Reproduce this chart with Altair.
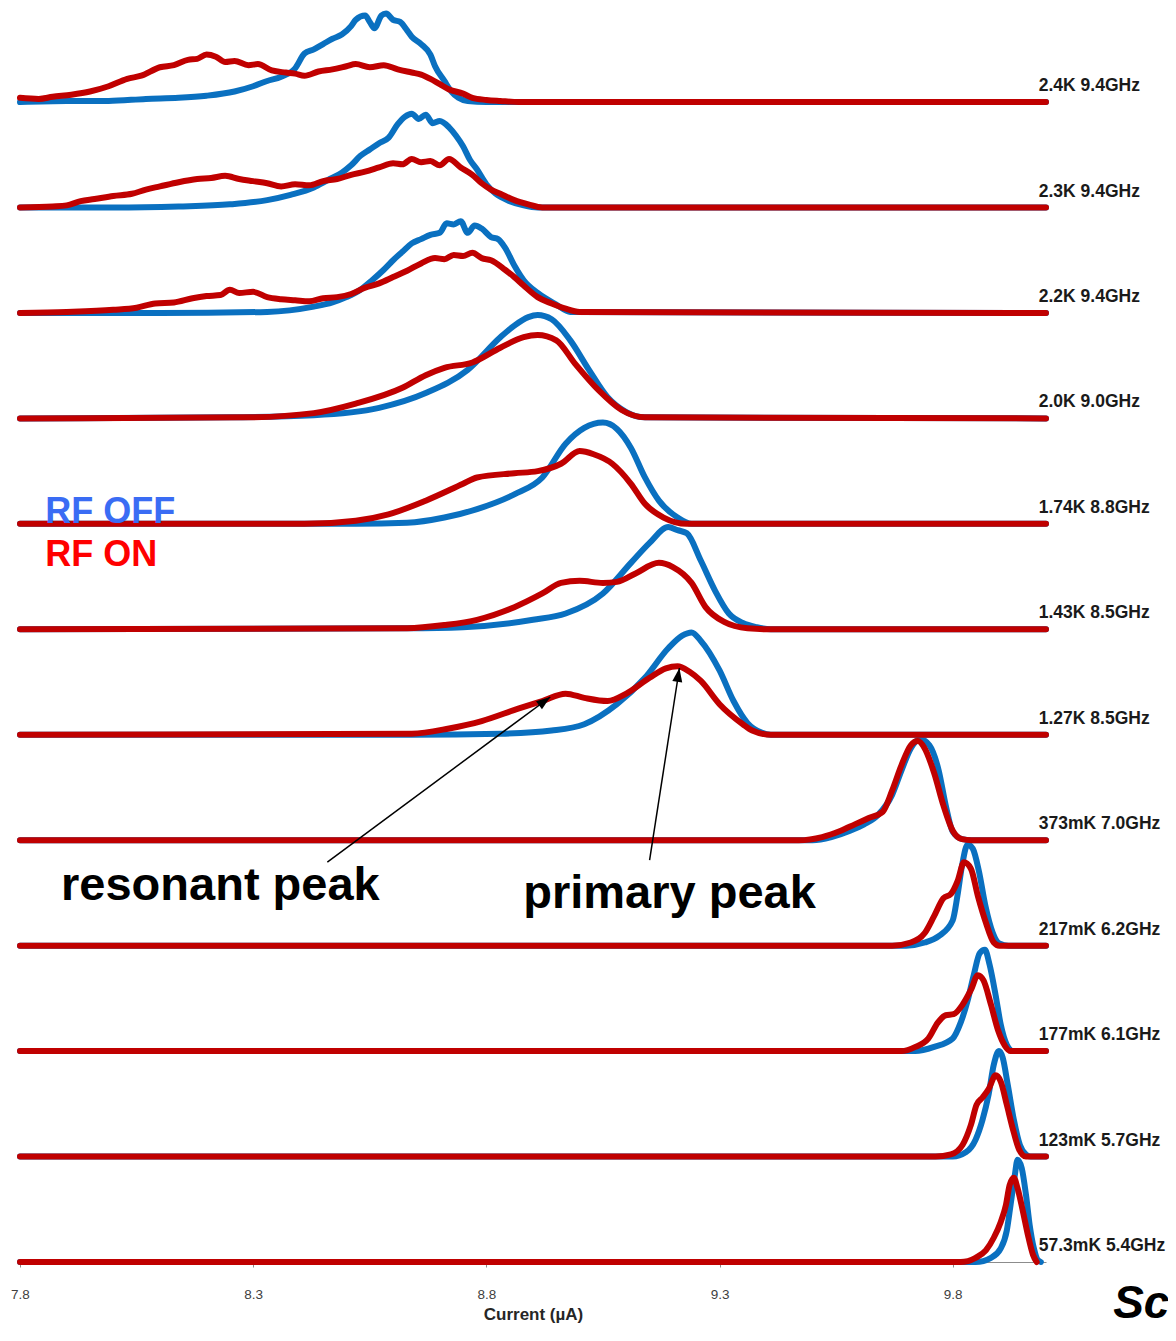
import altair as alt
import pandas as pd

# ---------------- data (x in uA, h = histogram height; row spacing = 100) -------------
labels = ["2.4K 9.4GHz", "2.3K 9.4GHz", "2.2K 9.4GHz", "2.0K 9.0GHz", "1.74K 8.8GHz",
          "1.43K 8.5GHz", "1.27K 8.5GHz", "373mK 7.0GHz", "217mK 6.2GHz",
          "177mK 6.1GHz", "123mK 5.7GHz", "57.3mK 5.4GHz"]

off_x_24K = [7.80, 7.90, 7.99, 8.07, 8.14, 8.20, 8.26, 8.30, 8.33, 8.36, 8.39, 8.41, 8.43, 8.45, 8.47, 8.49, 8.51, 8.52, 8.54, 8.55, 8.56, 8.575, 8.585, 8.60, 8.615, 8.63, 8.64, 8.66, 8.68, 8.69, 8.71, 8.725, 8.74, 8.76, 8.80, 10.0]
off_h_24K = [0, 1, 1, 3, 4, 6, 10, 15, 20, 24, 32, 46, 50, 55, 60, 64, 72, 78, 82, 76, 70, 82, 84, 78, 76, 68, 62, 55, 45, 34, 20, 10, 4, 1, 0, 0]
on_x_24K = [7.80, 7.84, 7.87, 7.91, 7.95, 7.99, 8.03, 8.06, 8.10, 8.13, 8.16, 8.18, 8.20, 8.22, 8.24, 8.26, 8.29, 8.31, 8.34, 8.37, 8.39, 8.41, 8.44, 8.47, 8.50, 8.52, 8.55, 8.58, 8.61, 8.64, 8.66, 8.68, 8.70, 8.72, 8.75, 8.77, 8.80, 8.83, 8.87, 10.0]
on_h_24K = [4, 3, 5, 7, 10, 15, 22, 25, 33, 35, 40, 41, 45, 43, 38, 39, 35, 36, 30, 28, 27, 25, 29, 31, 34, 36, 33, 35, 31, 28, 26, 22, 17, 12, 8, 4, 2, 1, 0, 0]

off_x_23K = [7.80, 8.00, 8.14, 8.25, 8.33, 8.38, 8.43, 8.46, 8.49, 8.51, 8.53, 8.55, 8.57, 8.59, 8.61, 8.625, 8.64, 8.655, 8.67, 8.685, 8.70, 8.72, 8.735, 8.75, 8.765, 8.78, 8.80, 8.82, 8.85, 8.88, 8.91, 10.0]
off_h_23K = [0, 0, 1, 3, 7, 12, 19, 26, 33, 40, 49, 55, 61, 66, 79, 86, 89, 84, 88, 80, 82, 76, 68, 58, 45, 36, 22, 13, 6, 2, 0, 0]
on_x_23K = [7.80, 7.87, 7.90, 7.93, 7.96, 8.00, 8.04, 8.07, 8.10, 8.14, 8.18, 8.21, 8.24, 8.27, 8.30, 8.33, 8.36, 8.39, 8.42, 8.45, 8.48, 8.51, 8.54, 8.57, 8.60, 8.62, 8.64, 8.66, 8.68, 8.70, 8.72, 8.745, 8.77, 8.79, 8.81, 8.83, 8.86, 8.89, 8.92, 10.0]
on_h_23K = [0, 1, 2, 6, 8, 11, 13, 17, 20, 24, 27, 28, 30, 27, 25, 23, 20, 22, 21, 25, 27, 31, 34, 38, 42, 41, 46, 43, 44, 40, 46, 38, 31, 23, 17, 13, 7, 3, 0, 0]

off_x_22K = [7.80, 8.10, 8.33, 8.43, 8.47, 8.50, 8.53, 8.555, 8.58, 8.60, 8.62, 8.64, 8.66, 8.68, 8.70, 8.715, 8.73, 8.745, 8.76, 8.775, 8.79, 8.81, 8.825, 8.84, 8.86, 8.88, 8.91, 8.95, 8.98, 10.0]
off_h_22K = [0, 0, 1, 6, 10, 15, 22, 31, 41, 50, 58, 66, 70, 74, 76, 85, 84, 87, 76, 83, 80, 72, 70, 62, 45, 31, 19, 8, 1, 0]
on_x_22K = [7.80, 7.90, 8.00, 8.05, 8.09, 8.13, 8.17, 8.20, 8.23, 8.25, 8.27, 8.30, 8.33, 8.36, 8.39, 8.42, 8.45, 8.48, 8.51, 8.54, 8.57, 8.60, 8.63, 8.66, 8.69, 8.71, 8.73, 8.75, 8.77, 8.79, 8.81, 8.84, 8.86, 8.88, 8.91, 8.94, 8.97, 9.00, 10.0]
on_h_22K = [0, 1, 3, 5, 9, 10, 14, 16, 17, 22, 19, 20, 15, 13, 12, 11, 14, 15, 18, 24, 28, 34, 40, 47, 52, 51, 55, 54, 57, 52, 50, 41, 34, 26, 15, 9, 4, 1, 0]

off_x_20K = [7.80, 8.25, 8.43, 8.57, 8.67, 8.76, 8.83, 8.86, 8.89, 8.91, 8.94, 8.98, 9.02, 9.06, 9.10, 9.14, 10.0]
off_h_20K = [0, 1, 3, 10, 24, 46, 77, 88, 96, 98, 94, 74, 46, 20, 6, 1, 0]
on_x_20K = [7.80, 8.29, 8.43, 8.52, 8.62, 8.67, 8.71, 8.77, 8.83, 8.88, 8.91, 8.95, 8.99, 9.04, 9.09, 9.14, 10.0]
on_h_20K = [0, 1, 5, 14, 29, 41, 48, 53, 67, 77, 79, 74, 52, 27, 8, 1, 0]

off_x_174K = [7.80, 8.52, 8.63, 8.71, 8.78, 8.86, 8.92, 8.97, 9.01, 9.05, 9.08, 9.11, 9.14, 9.17, 9.21, 9.24, 10.0]
off_h_174K = [0, 0, 1, 6, 14, 28, 44, 76, 91, 96, 90, 72, 44, 22, 6, 0, 0]
on_x_174K = [7.80, 8.41, 8.52, 8.59, 8.67, 8.75, 8.78, 8.86, 8.91, 8.96, 9.00, 9.03, 9.07, 9.11, 9.14, 9.18, 9.23, 10.0]
on_h_174K = [0, 0, 3, 9, 22, 38, 44, 48, 50, 57, 69, 66, 57, 38, 19, 6, 0, 0]

off_x_143K = [7.80, 8.63, 8.75, 8.90, 8.97, 9.05, 9.11, 9.15, 9.19, 9.21, 9.23, 9.26, 9.29, 9.32, 9.35, 9.38, 9.41, 10.0]
off_h_143K = [0, 1, 2, 9, 15, 34, 63, 82, 97, 94, 91, 65, 37, 15, 6, 2, 0, 0]
on_x_143K = [7.80, 8.63, 8.71, 8.78, 8.86, 8.92, 8.96, 9.00, 9.05, 9.08, 9.12, 9.17, 9.20, 9.24, 9.27, 9.31, 9.36, 9.41, 10.0]
on_h_143K = [0, 1, 4, 9, 21, 34, 44, 46, 44, 45, 53, 63, 59, 44, 21, 7, 1, 0, 0]

off_x_127K = [7.80, 8.64, 8.83, 8.94, 9.01, 9.08, 9.14, 9.19, 9.22, 9.24, 9.26, 9.30, 9.33, 9.36, 9.39, 9.41, 10.0]
off_h_127K = [0, 0, 1, 4, 10, 29, 54, 82, 94, 97, 89, 61, 32, 11, 2, 0, 0]
on_x_127K = [7.80, 8.64, 8.72, 8.79, 8.87, 8.92, 8.97, 9.01, 9.06, 9.10, 9.15, 9.185, 9.21, 9.235, 9.26, 9.30, 9.35, 9.37, 9.41, 10.0]
on_h_127K = [0, 1, 6, 13, 25, 32, 39, 35, 32, 39, 54, 63, 65, 60, 51, 29, 10, 4, 0, 0]

off_x_373mK = [7.80, 9.50, 9.54, 9.58, 9.61, 9.64, 9.67, 9.69, 9.71, 9.73, 9.75, 9.77, 9.785, 9.80, 9.82, 9.84, 10.0]
off_h_373mK = [0, 0, 3, 9, 15, 24, 43, 66, 87, 96, 90, 66, 33, 8, 1, 0, 0]
on_x_373mK = [7.80, 9.47, 9.52, 9.56, 9.59, 9.62, 9.65, 9.67, 9.69, 9.71, 9.725, 9.74, 9.76, 9.78, 9.80, 9.82, 9.84, 10.0]
on_h_373mK = [0, 0, 3, 9, 15, 21, 27, 47, 71, 90, 94, 87, 64, 33, 9, 1, 0, 0]

off_x_217mK = [7.80, 9.70, 9.74, 9.77, 9.80, 9.81, 9.82, 9.832, 9.843, 9.856, 9.87, 9.886, 9.90, 9.92, 10.0]
off_h_217mK = [0, 0, 3, 9, 24, 47, 76, 96, 92, 71, 38, 12, 2, 0, 0]
on_x_217mK = [7.80, 9.67, 9.71, 9.74, 9.76, 9.78, 9.796, 9.811, 9.824, 9.839, 9.854, 9.871, 9.888, 9.90, 10.0]
on_h_217mK = [0, 0, 3, 12, 28, 45, 49, 62, 79, 73, 47, 22, 3, 0, 0]

off_x_177mK = [7.80, 9.72, 9.76, 9.80, 9.817, 9.832, 9.845, 9.858, 9.869, 9.879, 9.892, 9.903, 9.916, 9.93, 10.0]
off_h_177mK = [0, 0, 4, 12, 27, 48, 72, 93, 96, 82, 53, 25, 6, 0, 0]
on_x_177mK = [7.80, 9.69, 9.72, 9.748, 9.768, 9.785, 9.802, 9.821, 9.839, 9.854, 9.866, 9.882, 9.897, 9.912, 9.924, 10.0]
on_h_177mK = [0, 0, 4, 12, 27, 34, 35, 44, 58, 72, 67, 44, 20, 5, 0, 0]

off_x_123mK = [7.80, 9.80, 9.828, 9.849, 9.864, 9.877, 9.888, 9.899, 9.907, 9.918, 9.931, 9.944, 9.957, 9.967, 10.0]
off_h_123mK = [0, 0, 4, 16, 35, 59, 87, 100, 94, 68, 35, 11, 2, 0, 0]
on_x_123mK = [7.80, 9.763, 9.796, 9.821, 9.839, 9.851, 9.864, 9.877, 9.892, 9.903, 9.916, 9.929, 9.942, 9.957, 10.0]
on_h_123mK = [0, 0, 2, 11, 30, 49, 56, 64, 77, 71, 49, 26, 7, 0, 0]

off_x_57mK = [7.80, 9.849, 9.882, 9.903, 9.916, 9.924, 9.933, 9.939, 9.948, 9.957, 9.965, 9.974, 9.982, 9.989]
off_h_57mK = [0, 0, 4, 13, 30, 54, 82, 97, 89, 64, 35, 13, 2, 0]
on_x_57mK = [7.80, 9.817, 9.849, 9.871, 9.888, 9.903, 9.914, 9.922, 9.931, 9.939, 9.950, 9.961, 9.972, 9.980]
on_h_57mK = [0, 0, 4, 11, 23, 38, 54, 73, 80, 70, 49, 26, 7, 0]

x_ticks = [7.8, 8.3, 8.8, 9.3, 9.8]

series_top_to_bottom = [
    (off_x_24K, off_h_24K, on_x_24K, on_h_24K),
    (off_x_23K, off_h_23K, on_x_23K, on_h_23K),
    (off_x_22K, off_h_22K, on_x_22K, on_h_22K),
    (off_x_20K, off_h_20K, on_x_20K, on_h_20K),
    (off_x_174K, off_h_174K, on_x_174K, on_h_174K),
    (off_x_143K, off_h_143K, on_x_143K, on_h_143K),
    (off_x_127K, off_h_127K, on_x_127K, on_h_127K),
    (off_x_373mK, off_h_373mK, on_x_373mK, on_h_373mK),
    (off_x_217mK, off_h_217mK, on_x_217mK, on_h_217mK),
    (off_x_177mK, off_h_177mK, on_x_177mK, on_h_177mK),
    (off_x_123mK, off_h_123mK, on_x_123mK, on_h_123mK),
    (off_x_57mK, off_h_57mK, on_x_57mK, on_h_57mK),
]

N = len(labels)
recs = []
lab_recs = []
for i, (ox, oh, nx, nh) in enumerate(series_top_to_bottom):
    r = N - 1 - i
    for k, (xv, hv) in enumerate(zip(ox, oh)):
        recs.append({"row": r, "series": "off", "k": k, "x": xv, "y": r * 100 + hv})
    for k, (xv, hv) in enumerate(zip(nx, nh)):
        recs.append({"row": r, "series": "on", "k": k, "x": xv, "y": r * 100 + hv})
    lab_recs.append({"x": 9.9845, "y": r * 100, "text": labels[i]})
df = pd.DataFrame(recs)
df_lab = pd.DataFrame(lab_recs)

BLUE = "#0a70c0"
RED = "#c00000"
FONT = "Liberation Sans"

xs = alt.X("x:Q", scale=alt.Scale(domain=[7.8, 10.0], nice=False, zero=False),
           axis=alt.Axis(values=x_ticks, format=".1f", labelFont=FONT, labelFontSize=13.5,
                         labelColor="#404040", tickColor="#8c8c8c", domainColor="#8c8c8c",
                         tickSize=5, labelPadding=20, labelFlush=False, grid=False,
                         title="Current (µA)", titleFont=FONT, titleFontSize=17,
                         titleFontWeight="bold", titleColor="#262626", titlePadding=6))
ys = alt.Y("y:Q", scale=alt.Scale(domain=[0, 1187.3], nice=False, zero=False), axis=None)

base = alt.Chart(df)
line_kw = dict(strokeWidth=6, strokeCap="round", strokeJoin="round", interpolate="monotone")
off_lines = base.transform_filter("datum.series == 'off'").mark_line(color=BLUE, **line_kw).encode(
    x=xs, y=ys, detail="row:N", order="k:Q")
on_lines = base.transform_filter("datum.series == 'on'").mark_line(color=RED, **line_kw).encode(
    x=xs, y=ys, detail="row:N", order="k:Q")

row_text = alt.Chart(df_lab).mark_text(align="left", baseline="alphabetic", dy=-11, font=FONT,
                                        fontWeight="bold", fontSize=17.5, color="#1a1a1a").encode(
    x=xs, y=ys, text="text:N")

def note(x, y, text, size, color, style="normal"):
    d = pd.DataFrame({"x": [x], "y": [y], "text": [text]})
    return alt.Chart(d).mark_text(align="left", baseline="alphabetic", font=FONT, fontWeight="bold",
                                  fontStyle=style, fontSize=size, color=color).encode(
        x=xs, y=ys, text="text:N")

rf_off = note(7.854, 700.8, "RF OFF", 36, "#3a6cf4")
rf_on = note(7.854, 660.0, "RF ON", 36, "#ff0000")
res_txt = note(7.888, 343.3, "resonant peak", 47, "#000000")
prim_txt = note(8.879, 335.7, "primary peak", 47, "#000000")
sc_txt = note(10.144, -53.1, "Sc", 46, "#000000", style="italic")

df_arrow = pd.DataFrame({"x": [8.459, 9.150], "y": [379.3, 381.2],
                         "x2": [8.937, 9.214], "y2": [535.8, 563.3]})
arrows = alt.Chart(df_arrow).mark_rule(color="black", strokeWidth=1.5).encode(
    x=xs, y=ys, x2="x2:Q", y2="y2:Q")
df_head = pd.DataFrame({"x": [8.937, 9.214], "y": [535.8, 563.3], "angle": [53.5, 8.9]})
heads = alt.Chart(df_head).mark_point(shape="M0,0 L-0.5,1.4 L0.5,1.4 Z", filled=True, size=400,
                                      color="black", opacity=1).encode(
    x=xs, y=ys, angle=alt.Angle("angle:Q", scale=None))

chart = alt.layer(off_lines, on_lines, row_text, rf_off, rf_on, res_txt, prim_txt, sc_txt,
                  arrows, heads).properties(
    width=1026, height=1252,
    autosize=alt.AutoSizeParams(type="none"),
    padding={"left": 12, "top": 2, "right": 122, "bottom": 66},
).configure_view(stroke=None)

chart.save("out.html", embed_options={"renderer": "svg", "actions": False})
